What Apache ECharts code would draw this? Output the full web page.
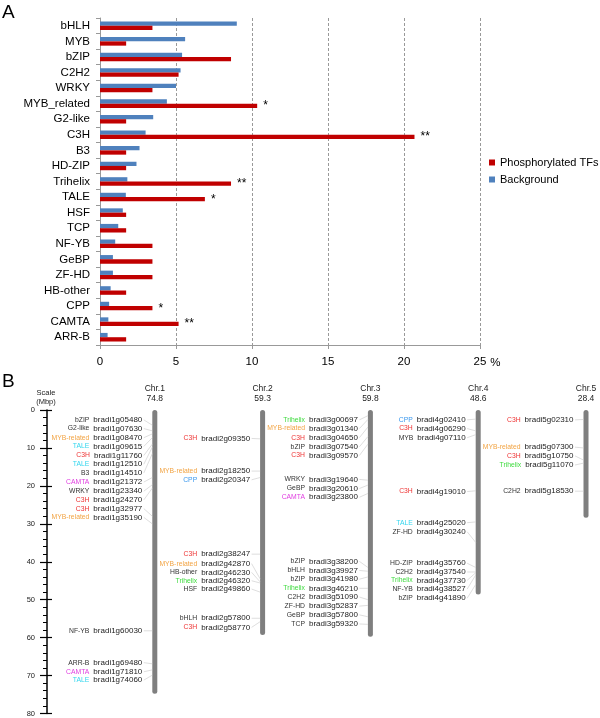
<!DOCTYPE html>
<html>
<head>
<meta charset="utf-8">
<script src="https://cdn.jsdelivr.net/npm/echarts@6.0.0/dist/echarts.min.js"></script>
<style>
  html, body { margin: 0; padding: 0; background: #fff; }
  #main { width: 600px; height: 718px; }
</style>
</head>
<body>
<div id="main"></div>
<script>
// ---- panel A data (% of TFs) ----
const families = ['bHLH', 'MYB', 'bZIP', 'C2H2', 'WRKY', 'MYB_related', 'G2-like', 'C3H', 'B3', 'HD-ZIP',
  'Trihelix', 'TALE', 'HSF', 'TCP', 'NF-YB', 'GeBP', 'ZF-HD', 'HB-other', 'CPP', 'CAMTA', 'ARR-B'];
const background = [9.0, 5.6, 5.4, 5.3, 5.0, 4.4, 3.5, 3.0, 2.6, 2.4, 1.8, 1.7, 1.5, 1.2, 1.0, 0.85, 0.85, 0.7, 0.6, 0.55, 0.5];
const phosphorylated = [3.45, 1.72, 8.62, 5.17, 3.45, 10.34, 1.72, 20.69, 1.72, 1.72, 8.62, 6.90, 1.72, 1.72, 3.45, 3.45, 3.45, 1.72, 3.45, 5.17, 1.72];
const significance = ['', '', '', '', '', '*', '', '**', '', '', '**', '*', '', '', '', '', '', '', '*', '**', ''];

// ---- panel B data (Mbp) ----
const chrNames = ['Chr.1', 'Chr.2', 'Chr.3', 'Chr.4', 'Chr.5'];
const chrLengths = [74.8, 59.3, 59.8, 48.6, 28.4];
// [family, gene, label position, gene position]
const chr1Genes = [
  ['bZIP', 'bradi1g05480', 2.6, 4.0], ['G2-like', 'bradi1g07630', 4.9, 5.5], ['MYB-related', 'bradi1g08470', 7.3, 6.3],
  ['TALE', 'bradi1g09615', 9.6, 7.3], ['C3H', 'bradi1g11760', 12.0, 9.0], ['TALE', 'bradi1g12510', 14.3, 9.8],
  ['B3', 'bradi1g14510', 16.6, 11.5], ['CAMTA', 'bradi1g21372', 19.0, 17.8], ['WRKY', 'bradi1g23340', 21.4, 19.7],
  ['C3H', 'bradi1g24270', 23.7, 20.6], ['C3H', 'bradi1g32977', 26.0, 28.0], ['MYB-related', 'bradi1g35190', 28.3, 30.0],
  ['NF-YB', 'bradi1g60030', 58.2, 58.2], ['ARR-B', 'bradi1g69480', 66.6, 66.9], ['CAMTA', 'bradi1g71810', 69.0, 68.5],
  ['TALE', 'bradi1g74060', 71.2, 69.9]
];
const chr2Genes = [
  ['C3H', 'bradi2g09350', 7.5, 7.6], ['MYB-related', 'bradi2g18250', 16.1, 16.1], ['CPP', 'bradi2g20347', 18.4, 17.8],
  ['C3H', 'bradi2g38247', 38.0, 38.0], ['MYB-related', 'bradi2g42870', 40.5, 44.5], ['HB-other', 'bradi2g46230', 42.8, 45.3],
  ['Trihelix', 'bradi2g46320', 45.0, 45.6], ['HSF', 'bradi2g49860', 47.2, 48.0],
  ['bHLH', 'bradi2g57800', 54.9, 54.9], ['C3H', 'bradi2g58770', 57.3, 55.8]
];
const chr3Genes = [
  ['Trihelix', 'bradi3g00697', 2.6, 1.5], ['MYB-related', 'bradi3g01340', 4.9, 2.5], ['C3H', 'bradi3g04650', 7.3, 4.5],
  ['bZIP', 'bradi3g07540', 9.7, 7.0], ['C3H', 'bradi3g09570', 12.0, 9.0],
  ['WRKY', 'bradi3g19640', 18.3, 18.5], ['GeBP', 'bradi3g20610', 20.7, 19.8], ['CAMTA', 'bradi3g23800', 23.0, 22.0],
  ['bZIP', 'bradi3g38200', 39.9, 41.5], ['bHLH', 'bradi3g39927', 42.3, 42.5], ['bZIP', 'bradi3g41980', 44.6, 44.0],
  ['Trihelix', 'bradi3g46210', 47.0, 47.0], ['C2H2', 'bradi3g51090', 49.3, 50.0], ['ZF-HD', 'bradi3g52837', 51.7, 51.5],
  ['GeBP', 'bradi3g57800', 54.0, 54.5], ['TCP', 'bradi3g59320', 56.4, 56.5]
];
const chr4Genes = [
  ['CPP', 'bradi4g02410', 2.6, 2.4], ['C3H', 'bradi4g06290', 4.9, 5.5], ['MYB', 'bradi4g07110', 7.3, 6.5],
  ['C3H', 'bradi4g19010', 21.5, 21.3], ['TALE', 'bradi4g25020', 29.7, 29.5], ['ZF-HD', 'bradi4g30240', 32.1, 34.9],
  ['HD-ZIP', 'bradi4g35760', 40.4, 41.5], ['C2H2', 'bradi4g37540', 42.7, 42.7], ['Trihelix', 'bradi4g37730', 44.9, 42.9],
  ['NF-YB', 'bradi4g38527', 47.2, 43.5], ['bZIP', 'bradi4g41890', 49.6, 46.0]
];
const chr5Genes = [
  ['C3H', 'bradi5g02310', 2.6, 2.5], ['MYB-related', 'bradi5g07300', 9.8, 10.0], ['C3H', 'bradi5g10750', 12.1, 13.2],
  ['Trihelix', 'bradi5g11070', 14.5, 14.0], ['C2H2', 'bradi5g18530', 21.4, 21.4]
];

const FONT = '"Liberation Sans", Arial, Helvetica, sans-serif';
const RED = '#C00000';
const BLUE = '#4F81BD';
const familyColors = {
  'C3H': '#EE3333', 'MYB-related': '#F2A444', 'TALE': '#33D6EE', 'CAMTA': '#E03FE0',
  'Trihelix': '#3FDB3F', 'CPP': '#3A98EE'
};

const geneRows = [];
[chr1Genes, chr2Genes, chr3Genes, chr4Genes, chr5Genes].forEach(function (list, i) {
  list.forEach(function (g) {
    geneRows.push({ chr: i + 1, fam: g[0], id: g[1], label: g[2], pos: g[3] });
  });
});

function renderChr(params, api) {
  const i = params.dataIndex;
  const top = api.coord([i + 1, 0]);
  const bot = api.coord([i + 1, chrLengths[i]]);
  return {
    type: 'group',
    children: [
      { type: 'rect', shape: { x: top[0] - 2.5, y: top[1], width: 5, height: bot[1] - top[1], r: 2.5 },
        style: { fill: '#7F7F7F' } },
      { type: 'text', style: { x: top[0], y: top[1] - 21, text: chrNames[i], align: 'center', verticalAlign: 'middle',
        fontSize: 8.5, fontFamily: FONT, fill: '#222' } },
      { type: 'text', style: { x: top[0], y: top[1] - 11, text: chrLengths[i].toFixed(1), align: 'center',
        verticalAlign: 'middle', fontSize: 8.5, fontFamily: FONT, fill: '#222' } }
    ]
  };
}

function renderGene(params, api) {
  const g = geneRows[params.dataIndex];
  const pL = api.coord([g.chr, g.label]);
  const pG = api.coord([g.chr, g.pos]);
  const col = familyColors[g.fam] || '#333';
  return {
    type: 'group',
    children: [
      { type: 'line', shape: { x1: pL[0] - 11, y1: pL[1], x2: pG[0] - 2.5, y2: pG[1] },
        style: { stroke: '#C8C8C8', lineWidth: 0.6 } },
      { type: 'text', style: {
        x: pL[0] - 12.5, y: pL[1], align: 'right', verticalAlign: 'middle',
        text: '{f|' + g.fam + '}{g|' + g.id + '}',
        rich: {
          f: { fontSize: 6.8, fontFamily: FONT, fill: col },
          g: { fontSize: 8, fontFamily: FONT, fill: '#222', padding: [0, 0, 0, 4] }
        }
      } }
    ]
  };
}

const chart = echarts.init(document.getElementById('main'), null, { renderer: 'canvas' });

chart.setOption({
  animation: false,
  textStyle: { fontFamily: FONT },
  graphic: [
    { type: 'text', left: 2, top: 3, style: { text: 'A', fontSize: 19, fontFamily: FONT, fill: '#000' } },
    { type: 'text', left: 2, top: 372, style: { text: 'B', fontSize: 19, fontFamily: FONT, fill: '#000' } },
    { type: 'text', x: 46, y: 393, style: { text: 'Scale', align: 'center', verticalAlign: 'middle', fontSize: 7.5, fontFamily: FONT, fill: '#222' } },
    { type: 'text', x: 46, y: 402, style: { text: '(Mbp)', align: 'center', verticalAlign: 'middle', fontSize: 7.5, fontFamily: FONT, fill: '#222' } }
  ],
  legend: {
    data: ['Phosphorylated TFs', 'Background'],
    orient: 'vertical',
    left: 484,
    top: 151,
    itemWidth: 6,
    itemHeight: 6,
    itemGap: 4,
    icon: 'rect',
    textStyle: { fontSize: 11, fontFamily: FONT, color: '#000', lineHeight: 13 }
  },
  grid: [
    { left: 100, top: 18, width: 380, height: 327 },
    { left: 47, top: 410, width: 539, height: 303.5 }
  ],
  xAxis: [
    {
      gridIndex: 0, type: 'value', min: 0, max: 25, interval: 5,
      name: '%', nameLocation: 'end', nameGap: 6,
      nameTextStyle: { fontSize: 11.5, fontFamily: FONT, color: '#000', align: 'left', verticalAlign: 'top', padding: [12, 0, 0, 0] },
      axisLine: { show: true, lineStyle: { color: '#999' } },
      axisTick: { show: true, length: 4, lineStyle: { color: '#999' } },
      axisLabel: { fontSize: 11.5, color: '#000', margin: 11 },
      splitLine: { show: true, lineStyle: { color: '#999', type: [3, 2] } }
    },
    { gridIndex: 1, type: 'value', min: 0, max: 5, show: false }
  ],
  yAxis: [
    {
      gridIndex: 0, type: 'category', data: families, inverse: true,
      axisLine: { show: true, lineStyle: { color: '#999' } },
      axisTick: { show: true, length: 4, interval: 0, lineStyle: { color: '#999' } },
      axisLabel: { fontSize: 11.5, color: '#000', margin: 10, interval: 0 }
    },
    {
      gridIndex: 1, type: 'value', min: 0, max: 80, interval: 10, inverse: true,
      axisLine: { show: true, lineStyle: { color: '#000', width: 1.5 } },
      axisTick: { show: true, length: 7, lineStyle: { color: '#000', width: 1.2 } },
      minorTick: { show: true, splitNumber: 5, length: 4, lineStyle: { color: '#000', width: 1 } },
      axisLabel: { fontSize: 7.5, color: '#222', margin: 12 },
      splitLine: { show: false }
    },
    {
      gridIndex: 1, type: 'value', min: 0, max: 80, interval: 10, inverse: true, position: 'left',
      axisLine: { show: false },
      axisTick: { show: true, inside: true, length: 5, lineStyle: { color: '#000', width: 1.2 } },
      axisLabel: { show: false },
      splitLine: { show: false }
    }
  ],
  series: [
    {
      name: 'Background', type: 'bar', xAxisIndex: 0, yAxisIndex: 0,
      data: background, barWidth: 4.3, barGap: 0,
      itemStyle: { color: BLUE }, silent: true
    },
    {
      name: 'Phosphorylated TFs', type: 'bar', xAxisIndex: 0, yAxisIndex: 0,
      data: phosphorylated, barWidth: 4.3, barGap: 0,
      itemStyle: { color: RED }, silent: true,
      label: {
        show: true, position: 'right', distance: 6, fontSize: 12, color: '#000',
        formatter: function (p) { return significance[p.dataIndex]; }
      }
    },
    {
      type: 'custom', xAxisIndex: 1, yAxisIndex: 1, silent: true, clip: false,
      data: chrLengths.map(function (len, i) { return [i + 1, len]; }),
      renderItem: renderChr
    },
    {
      type: 'custom', xAxisIndex: 1, yAxisIndex: 1, silent: true, clip: false,
      data: geneRows.map(function (g) { return [g.chr, g.label, g.pos]; }),
      renderItem: renderGene
    }
  ]
});
</script>
</body>
</html>
